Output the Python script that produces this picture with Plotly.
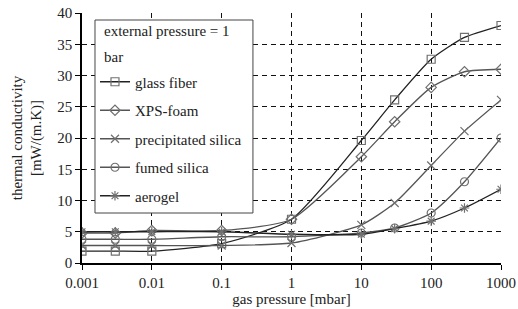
import plotly.graph_objects as go

pressure = [0.001, 0.003, 0.01, 0.1, 1, 10, 30, 100, 300, 1000]
glass_fiber = [1.9, 1.9, 1.9, 3.1, 7.0, 19.6, 26.1, 32.6, 36.1, 38.0]
xps_foam = [4.8, 4.8, 5.2, 5.2, 7.0, 17.0, 22.6, 28.1, 30.6, 31.0]
precip_silica = [2.8, 2.8, 2.8, 2.8, 3.2, 6.1, 9.6, 15.6, 21.1, 26.1]
fumed_silica = [3.8, 3.8, 3.8, 4.2, 4.2, 4.8, 5.6, 8.0, 13.0, 20.0]
aerogel = [5.0, 5.0, 5.0, 5.0, 4.6, 4.6, 5.5, 6.7, 8.8, 11.8]

tick_vals = [0.001, 0.01, 0.1, 1, 10, 100, 1000]
tick_text = ["0.001", "0.01", "0.1", "1", "10", "100", "1000"]
legend_title = ["external pressure = 1", "bar"]

series = [
    ("glass fiber", glass_fiber, "square-open", "#222222"),
    ("XPS-foam", xps_foam, "diamond-open", "#555555"),
    ("precipitated silica", precip_silica, "x-thin-open", "#555555"),
    ("fumed silica", fumed_silica, "circle-open", "#555555"),
    ("aerogel", aerogel, "asterisk-open", "#222222"),
]

FONT = "Liberation Serif"
fig = go.Figure()
for name, vals, sym, col in series:
    fig.add_trace(go.Scatter(
        x=pressure, y=vals, name=name, legendgroup=name,
        mode="lines+markers",
        line=dict(color=col, width=1.3, shape="spline", smoothing=0.6),
        marker=dict(symbol=sym, size=8, color="#707070",
                    line=dict(color="#707070", width=1.2)),
    ))

# legend frame (white box hiding the grid) and its two-line title
fig.add_shape(type="rect", xref="paper", yref="paper",
              x0=0.031, x1=0.408, y0=0.2, y1=0.972,
              fillcolor="white", line=dict(color="#444444", width=1), layer="above")
for txt, yy in zip(legend_title, [0.926, 0.824]):
    fig.add_annotation(text=txt, xref="paper", yref="paper", x=0.047, y=yy,
                       xanchor="left", yanchor="middle", showarrow=False,
                       font=dict(family=FONT, size=15, color="#222222"))

fig.update_layout(
    width=518, height=309,
    margin=dict(l=82, r=17, t=13, b=46, autoexpand=False),
    paper_bgcolor="white", plot_bgcolor="white",
    font=dict(family=FONT, size=15, color="#222222"),
    showlegend=True,
    legend=dict(
        x=0.031, y=0.79, xanchor="left", yanchor="top",
        bgcolor="rgba(0,0,0,0)", borderwidth=0,
        font=dict(family=FONT, size=15),
        tracegroupgap=6,
        itemwidth=30,
    ),
)
fig.update_xaxes(
    type="log", range=[-3, 3], automargin=False,
    tickvals=tick_vals, ticktext=tick_text,
    showgrid=True, gridcolor="#111111", gridwidth=1, griddash="5px,4px",
    showline=True, linecolor="black", linewidth=1.5,
    ticks="outside", ticklen=5, tickcolor="black",
    tickfont=dict(size=15), zeroline=False,
    title=dict(text="gas pressure [mbar]", font=dict(size=15), standoff=4),
)
fig.update_yaxes(
    range=[0, 40], automargin=False, tickvals=[0, 5, 10, 15, 20, 25, 30, 35, 40],
    showgrid=True, gridcolor="#111111", gridwidth=1, griddash="5px,4px",
    showline=True, linecolor="black", linewidth=1.5,
    ticks="outside", ticklen=5, tickcolor="black",
    tickfont=dict(size=15), zeroline=False,
    title=dict(text="thermal conductivity<br>[mW/(m.K)]", font=dict(size=15), standoff=12),
)
fig.write_html("out.html", config={"displayModeBar": False},
               post_script="document.body.style.margin='0';document.body.style.overflow='hidden';")
